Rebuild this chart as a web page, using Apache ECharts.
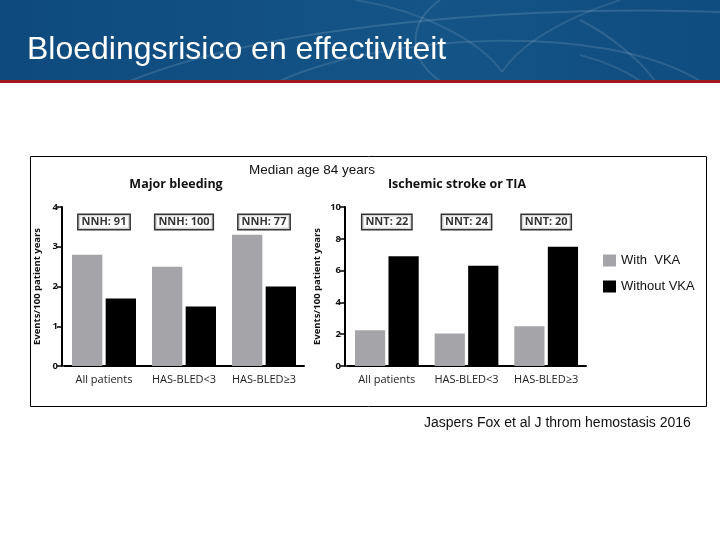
<!DOCTYPE html>
<html><head><meta charset="utf-8">
<script src="https://cdn.jsdelivr.net/npm/echarts@6/dist/echarts.min.js"></script>
<style>html,body{margin:0;padding:0;background:#fff}#c{width:720px;height:540px}</style>
</head><body><div id="c"></div>
<script>
const categories = ['All patients', 'HAS-BLED<3', 'HAS-BLED\u22653'];
const bleedWithVKA = [2.8, 2.5, 3.3];
const bleedWithoutVKA = [1.7, 1.5, 2.0];
const strokeWithVKA = [2.25, 2.05, 2.5];
const strokeWithoutVKA = [6.9, 6.3, 7.5];
const nnhLabels = ['NNH: 91', 'NNH: 100', 'NNH: 77'];
const nntLabels = ['NNT: 22', 'NNT: 24', 'NNT: 20'];
const bleedTicks = [0, 1, 2, 3, 4];
const strokeTicks = [0, 2, 4, 6, 8, 10];
const seriesNames = ['With  VKA', 'Without VKA'];

const GRAY = '#a5a5a9', BLACK = '#000';
const chart = echarts.init(document.getElementById('c'));

function boxSeries(idx, labels, yPos) {
  return {
    type: 'scatter', xAxisIndex: idx, yAxisIndex: idx, symbolSize: 1, silent: true,
    itemStyle: { color: 'rgba(0,0,0,0)' },
    data: labels.map((t, i) => [i, yPos]),
    label: {
      show: true, position: 'inside',
      formatter: p => labels[p.dataIndex],
      fontFamily: 'Open Sans', fontWeight: 'bold', fontSize: 11, color: '#000',
      backgroundColor: '#fff', borderColor: '#000', borderWidth: 1.5,
      padding: [2, 3, 1, 3]
    },
    z: 10
  };
}
const axisFont = { fontFamily: 'Open Sans', color: '#222' };
function xAx(idx) {
  return {
    type: 'category', gridIndex: idx, data: categories,
    axisLine: { lineStyle: { color: '#000', width: 2 } },
    axisTick: { show: false },
    axisLabel: Object.assign({ fontSize: 11, margin: 8, interval: 0, hideOverlap: false }, axisFont)
  };
}
function yAx(idx, max, interval, gap, off) {
  return {
    type: 'value', gridIndex: idx, min: 0, max: max, interval: interval, offset: off,
    name: 'Events/100 patient years', nameLocation: 'middle', nameGap: gap,
    nameTextStyle: { fontFamily: 'Open Sans', fontWeight: 'bold', fontSize: 9.5, color: '#111' },
    axisLine: { show: true, lineStyle: { color: '#000', width: 2 } },
    axisTick: { show: true, length: 5, lineStyle: { color: '#000', width: 1.5 } },
    axisLabel: { fontFamily: 'Open Sans', fontWeight: 'bold', fontSize: 9.5, color: '#111', margin: 4 },
    splitLine: { show: false }
  };
}
function bar(idx, name, data, color) {
  return {
    type: 'bar', name: name, xAxisIndex: idx, yAxisIndex: idx, data: data,
    itemStyle: { color: color }, barGap: '11%', barCategoryGap: '20%'
  };
}
const curveStyle = a => ({ fill: 'none', stroke: 'rgba(255,255,255,' + a + ')', lineWidth: 2 });

const option = {
  animation: false,
  graphic: [
    { type: 'rect', shape: { x: 0, y: 0, width: 720, height: 81 },
      style: { fill: new echarts.graphic.LinearGradient(0, 0, 1, 0, [
        { offset: 0, color: '#0e4a7d' }, { offset: 0.6, color: '#145487' }, { offset: 1, color: '#0f4c7f' }]) }, z: 0 },
    { type: 'bezierCurve', shape: { x1: 130, y1: 81, x2: 720, y2: 12, cpx1: 280, cpy1: 20, cpx2: 560, cpy2: 5 }, style: curveStyle(0.13), z: 1 },
    { type: 'bezierCurve', shape: { x1: 280, y1: 81, x2: 700, y2: 81, cpx1: 380, cpy1: 35, cpx2: 600, cpy2: 20 }, style: curveStyle(0.12), z: 1 },
    { type: 'bezierCurve', shape: { x1: 440, y1: 0, x2: 440, y2: 81, cpx1: 405, cpy1: 25, cpx2: 410, cpy2: 60 }, style: curveStyle(0.12), z: 1 },
    { type: 'bezierCurve', shape: { x1: 355, y1: 0, x2: 502, y2: 72, cpx1: 420, cpy1: 10, cpx2: 480, cpy2: 40 }, style: curveStyle(0.1), z: 1 },
    { type: 'bezierCurve', shape: { x1: 620, y1: 0, x2: 502, y2: 72, cpx1: 560, cpy1: 20, cpx2: 520, cpy2: 45 }, style: curveStyle(0.1), z: 1 },
    { type: 'bezierCurve', shape: { x1: 580, y1: 20, x2: 655, y2: 81, cpx1: 610, cpy1: 35, cpx2: 640, cpy2: 60 }, style: curveStyle(0.12), z: 1 },
    { type: 'bezierCurve', shape: { x1: 580, y1: 55, x2: 640, y2: 81, cpx1: 600, cpy1: 60, cpx2: 625, cpy2: 70 }, style: curveStyle(0.1), z: 1 },
    { type: 'rect', shape: { x: 0, y: 80, width: 720, height: 3 }, style: { fill: '#a3171c' }, z: 2 },
    { type: 'text', left: 27, top: 34, z: 3,
      style: { text: 'Bloedingsrisico en effectiviteit', fill: '#fff', font: '32px "Liberation Sans", Arial, sans-serif' } },
    { type: 'rect', shape: { x: 30.5, y: 156.5, width: 676, height: 250 }, style: { fill: 'none', stroke: '#000', lineWidth: 1 }, z: 3 },
    { type: 'text', left: 249, top: 163, z: 3,
      style: { text: 'Median age 84 years', fill: '#111', font: '13.5px "Liberation Sans", Arial, sans-serif' } },
    { type: 'text', left: 424, top: 416, z: 3,
      style: { text: 'Jaspers Fox et al J throm hemostasis 2016', fill: '#111', font: '14px "Liberation Sans", Arial, sans-serif' } },
    { type: 'text', x: 176, y: 184, z: 3,
      style: { text: 'Major bleeding', fill: '#111', font: 'bold 12.5px "Open Sans", sans-serif', textAlign: 'center', textVerticalAlign: 'middle' } },
    { type: 'text', x: 457, y: 184, z: 3,
      style: { text: 'Ischemic stroke or TIA', fill: '#111', font: 'bold 12.5px "Open Sans", sans-serif', textAlign: 'center', textVerticalAlign: 'middle' } }
  ],
  legend: {
    data: seriesNames, orient: 'vertical', left: 598, top: 249,
    icon: 'rect', itemWidth: 13, itemHeight: 12, itemGap: 13,
    textStyle: { fontFamily: 'Liberation Sans', fontSize: 13, color: '#111' }
  },
  grid: [
    { left: 64, top: 207, width: 240, height: 159 },
    { left: 347, top: 207, width: 239, height: 159 }
  ],
  xAxis: [xAx(0), xAx(1)],
  yAxis: [yAx(0, bleedTicks[bleedTicks.length - 1], 1, 20, 2), yAx(1, strokeTicks[strokeTicks.length - 1], 2, 23, 2)],
  series: [
    bar(0, seriesNames[0], bleedWithVKA, GRAY),
    bar(0, seriesNames[1], bleedWithoutVKA, BLACK),
    bar(1, seriesNames[0], strokeWithVKA, GRAY),
    bar(1, seriesNames[1], strokeWithoutVKA, BLACK),
    boxSeries(0, nnhLabels, 3.62),
    boxSeries(1, nntLabels, 9.05)
  ]
};
chart.setOption(option);
</script></body></html>
